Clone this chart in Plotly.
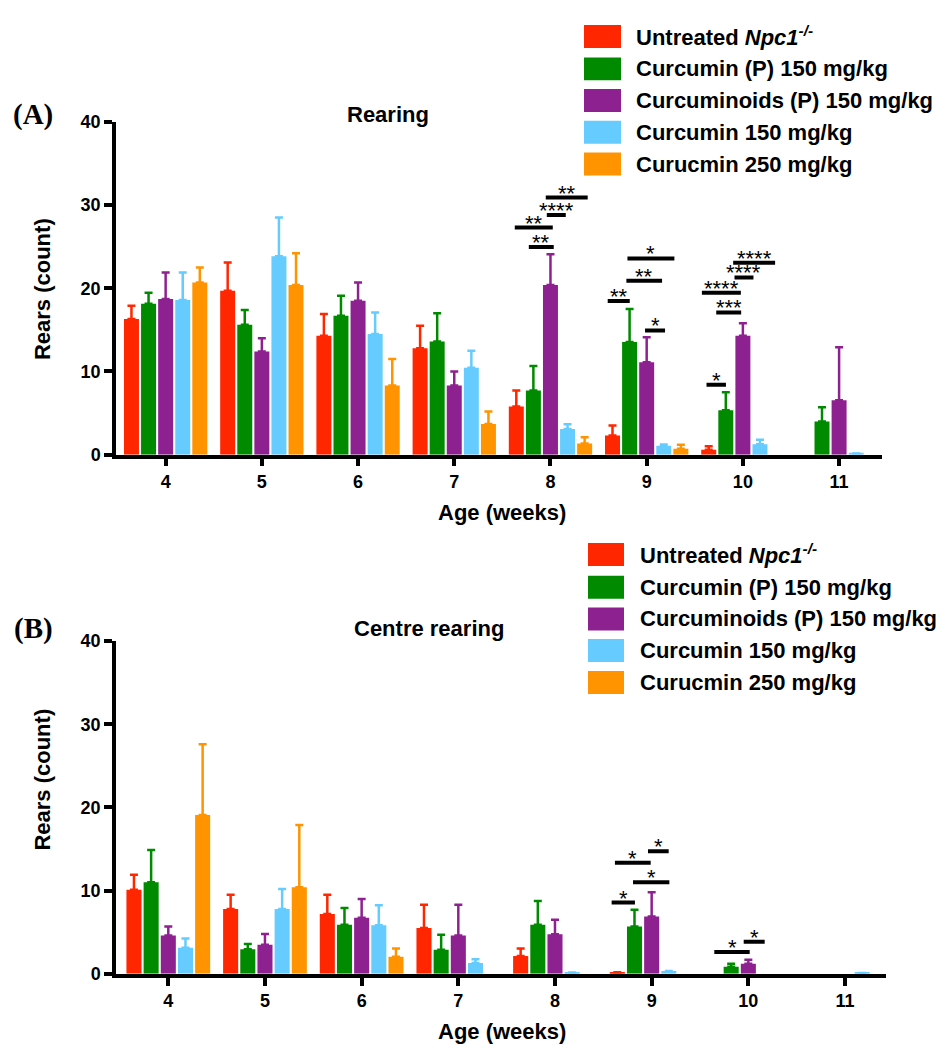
import plotly.graph_objects as go

# ---------------- data ----------------
weeks = [4, 5, 6, 7, 8, 9, 10, 11]
series_names = ["Untreated <i>Npc1</i><sup><i>-/-</i></sup>", "Curcumin (P) 150 mg/kg",
                "Curcuminoids (P) 150 mg/kg", "Curcumin 150 mg/kg", "Curucmin 250 mg/kg"]
colors = ["#FF2600", "#008A00", "#8E2190", "#66CCFF", "#FF9400"]

# Panel A: Rearing (mean, upper SEM)
rear_untreated = [16.3, 19.7, 14.3, 12.8, 5.8, 2.3, 0.6, None]
rear_untreated_err = [1.6, 3.4, 2.6, 2.7, 1.9, 1.2, 0.4, None]
rear_curP = [18.15, 15.6, 16.7, 13.6, 7.7, 13.55, 5.35, 4.0]
rear_curP_err = [1.3, 1.8, 2.4, 3.4, 2.95, 3.95, 2.15, 1.7]
rear_curoidP = [18.7, 12.4, 18.5, 8.3, 20.4, 11.1, 14.3, 6.55]
rear_curoidP_err = [3.2, 1.6, 2.2, 1.7, 3.7, 3.0, 1.5, 6.35]
rear_cur150 = [18.6, 23.85, 14.5, 10.45, 3.1, 1.06, 1.25, 0.15]
rear_cur150_err = [3.3, 4.65, 2.6, 2.05, 0.55, 0.15, 0.55, None]
rear_cur250 = [20.7, 20.4, 8.3, 3.7, 1.35, 0.7, None, None]
rear_cur250_err = [1.8, 3.8, 3.2, 1.5, 0.75, 0.5, None, None]

# Panel B: Centre rearing
centre_untreated = [10.1, 7.8, 7.2, 5.5, 2.15, 0.2, None, None]
centre_untreated_err = [1.8, 1.7, 2.3, 2.8, 0.9, None, None, None]
centre_curP = [11.0, 2.95, 5.9, 2.9, 5.9, 5.7, 0.85, None]
centre_curP_err = [3.9, 0.65, 2.0, 1.8, 2.85, 2.0, 0.35, None]
centre_curoidP = [4.6, 3.5, 6.75, 4.6, 4.75, 6.9, 1.2, None]
centre_curoidP_err = [1.1, 1.3, 2.25, 3.7, 1.75, 2.9, 0.5, None]
centre_cur150 = [3.15, 7.8, 5.85, 1.3, 0.15, 0.35, None, 0.1]
centre_cur150_err = [1.1, 2.4, 2.4, 0.45, None, None, None, None]
centre_cur250 = [19.1, 10.4, 2.05, None, None, None, None, None]
centre_cur250_err = [8.5, 7.5, 1.0, None, None, None, None, None]

# significance brackets: week, start offset, end offset (weeks), height, label
sigA_week = [8, 8, 8, 8, 9, 9, 9, 9, 10, 10, 10, 10, 10]
sigA_x0 = [-0.225, -0.371, -0.038, -0.049, -0.405, -0.211, -0.200, -0.017, -0.378, -0.426, -0.277, -0.087, -0.101]
sigA_x1 = [0.034, 0.024, 0.159, 0.387, -0.176, 0.160, 0.288, 0.191, -0.176, -0.021, -0.018, 0.110, 0.335]
sigA_y = [24.95, 27.3, 28.8, 30.9, 18.47, 20.9, 23.58, 14.93, 8.41, 19.46, 17.1, 21.3, 23.07]
sigA_label = ["**", "**", "****", "**", "**", "**", "*", "*", "*", "****", "***", "****", "****"]

sigB_week = [9, 9, 9, 9, 10, 10]
sigB_x0 = [-0.414, -0.380, -0.193, -0.038, -0.352, -0.048]
sigB_x1 = [-0.173, -0.010, 0.183, 0.176, 0.014, 0.169]
sigB_y = [8.57, 13.36, 11.0, 14.73, 2.64, 3.85]
sigB_label = ["*", "*", "*", "*", "*", "*"]

panelA = [(rear_untreated, rear_untreated_err), (rear_curP, rear_curP_err),
          (rear_curoidP, rear_curoidP_err), (rear_cur150, rear_cur150_err),
          (rear_cur250, rear_cur250_err)]
panelB = [(centre_untreated, centre_untreated_err), (centre_curP, centre_curP_err),
          (centre_curoidP, centre_curoidP_err), (centre_cur150, centre_cur150_err),
          (centre_cur250, centre_cur250_err)]

# ---------------- figure ----------------
W, H = 940, 1053
FONT = "Liberation Sans, Arial, Helvetica, sans-serif"


def px(x):
    return x / W


def py(y):
    return 1 - y / H


fig = go.Figure()

for panel, xa, ya in [(panelA, "x", "y"), (panelB, "x2", "y2")]:
    for (vals, errs), name, col in zip(panel, series_names, colors):
        fig.add_trace(go.Bar(
            x=weeks, y=vals, name=name, xaxis=xa, yaxis=ya,
            marker=dict(color=col, line=dict(width=0)),
            showlegend=False,
            error_y=dict(type="data", array=errs, arrayminus=[0] * len(errs),
                         symmetric=False, color=col, thickness=2.5, width=4),
        ))

axis_common = dict(showline=True, linecolor="black", linewidth=3.5, ticks="outside",
                   tickwidth=3.5, ticklen=8, tickcolor="black", showgrid=False, zeroline=False,
                   tickfont=dict(family=FONT, size=18, color="black", weight="bold"))

fig.update_layout(
    width=W, height=H, margin=dict(l=0, r=0, t=0, b=0),
    paper_bgcolor="white", plot_bgcolor="white",
    barmode="group", bargap=0.112, bargroupgap=0.123,
    xaxis=dict(domain=[px(116), px(882)], range=[3.484, 11.446], tickvals=weeks,
               anchor="y", **axis_common),
    yaxis=dict(domain=[py(453.3), py(114)], range=[0, 40], tickvals=[0, 10, 20, 30, 40],
               anchor="x", **axis_common),
    xaxis2=dict(domain=[px(116), px(886)], range=[3.459, 11.424], tickvals=weeks,
                anchor="y2", **axis_common),
    yaxis2=dict(domain=[py(982.5), py(643.3)], range=[0, 40], tickvals=[0, 10, 20, 30, 40],
                anchor="x2", **axis_common),
)

shapes = []
annotations = []

# significance brackets
for wk, x0, x1, yv, lab, xr, yr in (
        [(w, a, b, c, d, "x", "y") for w, a, b, c, d in zip(sigA_week, sigA_x0, sigA_x1, sigA_y, sigA_label)] +
        [(w, a, b, c, d, "x2", "y2") for w, a, b, c, d in zip(sigB_week, sigB_x0, sigB_x1, sigB_y, sigB_label)]):
    shapes.append(dict(type="line", xref=xr, yref=yr, x0=wk + x0, x1=wk + x1, y0=yv, y1=yv,
                       line=dict(color="black", width=4)))
    annotations.append(dict(xref=xr, yref=yr, x=wk + (x0 + x1) / 2, y=yv, text=lab,
                            showarrow=False, yanchor="bottom", yshift=-10,
                            font=dict(family=FONT, size=22, color="black")))

# manual legends
for rows, sq_x0, sq_x1, tx in [([27, 60, 92.3, 124.7, 157], 584, 621, 634),
                                ([555, 588.5, 620.7, 653, 685.5], 588, 624, 638)]:
    for yc, name, col in zip(rows, series_names, colors):
        shapes.append(dict(type="rect", xref="paper", yref="paper",
                           x0=px(sq_x0), x1=px(sq_x1), y0=py(yc + 11.7), y1=py(yc - 11.7),
                           fillcolor=col, line=dict(width=0)))
        annotations.append(dict(xref="paper", yref="paper", x=px(tx), y=py(yc), text=name,
                                showarrow=False, xanchor="left", yanchor="middle",
                                font=dict(family=FONT, size=22, color="black", weight="bold")))

# titles, axis titles, panel labels
def txt(x, y, t, size=22, angle=0, family=FONT, weight="bold"):
    annotations.append(dict(xref="paper", yref="paper", x=px(x), y=py(y), text=t,
                            showarrow=False, xanchor="center", yanchor="middle", textangle=angle,
                            font=dict(family=family, size=size, color="black", weight=weight)))

txt(388, 107, "Rearing")
txt(429, 630, "Centre rearing")
txt(42.5, 285, "Rears (count)", angle=-90)
txt(42.5, 785, "Rears (count)", angle=-90)
txt(502, 512.7, "Age (weeks)")
txt(502, 1041, "Age (weeks)")
txt(33, 107, "(A)", size=29, family="Liberation Serif, Times New Roman, serif")
txt(33, 630, "(B)", size=29, family="Liberation Serif, Times New Roman, serif")

fig.update_layout(shapes=shapes, annotations=annotations)

fig.write_html("out.html")
